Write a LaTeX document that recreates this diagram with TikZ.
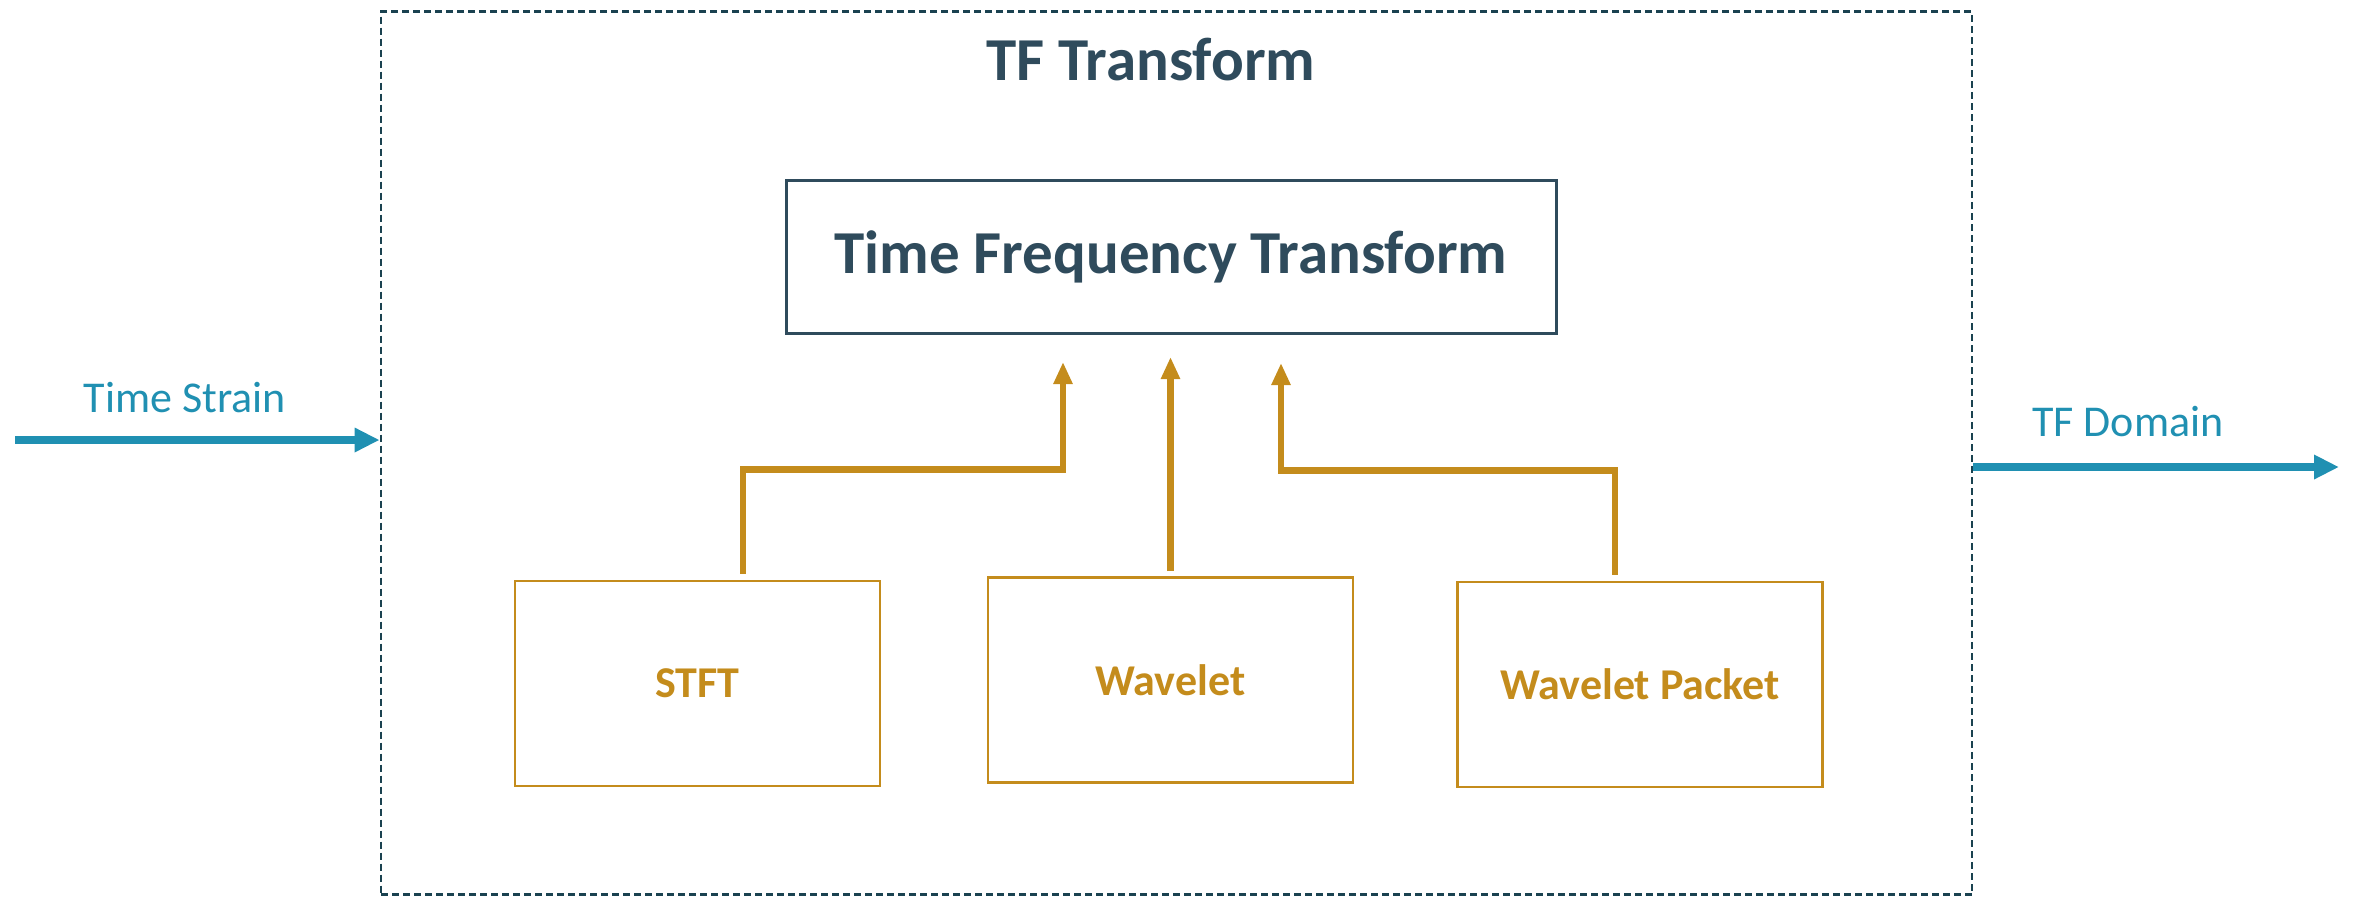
\documentclass[tikz,border=0pt]{standalone}
\usepackage{fontspec}
\setmainfont{Carlito}
\usetikzlibrary{arrows.meta}
\definecolor{slate}{RGB}{47,75,92}
\definecolor{framecol}{RGB}{26,66,80}
\definecolor{flow}{RGB}{32,144,178}
\definecolor{gold}{RGB}{196,140,28}

\begin{document}
\begin{tikzpicture}[x=0.5pt,y=0.5pt,yscale=-1,xscale=1,
  method/.style={draw=gold,line width=1.3pt,minimum width=182.5pt,minimum height=102.5pt,inner sep=0pt,text=gold,font=\fontsize{22}{26}\selectfont\bfseries},
  feed/.style={draw=gold,line width=3.3pt,-{Triangle[length=11pt,width=9pt]}},
  flowline/.style={draw=flow,line width=4pt,-{Triangle[length=12.5pt,width=11.5pt]}},
  flowlabel/.style={text=flow,font=\fontsize{22}{26}\selectfont,inner sep=0pt}]
\useasboundingbox (0,0) rectangle (2355,896);

%Shape: Dashed Frame
\node (frame) [draw=framecol,line width=1.4pt,dash pattern={on 3.5pt off 2pt},minimum width=795.5pt,minimum height=441.5pt,inner sep=0pt] at (1176.5,453) {};
%Text: Title
\node (title) [anchor=base,inner sep=0pt,text=slate,font=\fontsize{30.5}{36}\selectfont\bfseries] at (1151,80) {TF Transform};

%Shape: Rectangle
\node (tft) [draw=slate,line width=1.5pt,minimum width=385pt,minimum height=76.5pt,inner sep=0pt,text=slate,font=\fontsize{30.5}{36}\selectfont\bfseries] at (1171,256.5) {\raisebox{2.5pt}{Time Frequency Transform}};

%Shape: Rectangle
\node (stft) [method] at (697.5,683.5) {STFT};
%Shape: Rectangle
\node (wavelet) [method] at (1170.5,680) {Wavelet};
%Shape: Rectangle
\node (packet) [method] at (1640,684.5) {Wavelet Packet};

%Arrow tips under the transform box
\coordinate (stftin) at (1063,362);
\coordinate (wavin) at (1172,357);
\coordinate (packetin) at (1281,363);

%Connectors
\draw [feed,shorten <=3pt] ([xshift=22.75pt]stft.north) -- ++(0,-110) -| (stftin);
\draw [feed,shorten <=2.5pt] (wavelet.north) -- (wavelet.north |- wavin);
\draw [feed,shorten <=3pt] ([xshift=-12.5pt]packet.north) -- ++(0,-110) -| (packetin);

%Input and output
\coordinate (src) at (15,440);
\coordinate (sink) at (2339,467);
\draw [flowline] (src) -- (src -| frame.west);
\draw [flowline] (sink -| frame.east) -- (sink);
\node (inlabel) [flowlabel] at (185,398) {Time Strain};
\node (outlabel) [flowlabel] at (2128,422) {TF Domain};

\end{tikzpicture}
\end{document}
